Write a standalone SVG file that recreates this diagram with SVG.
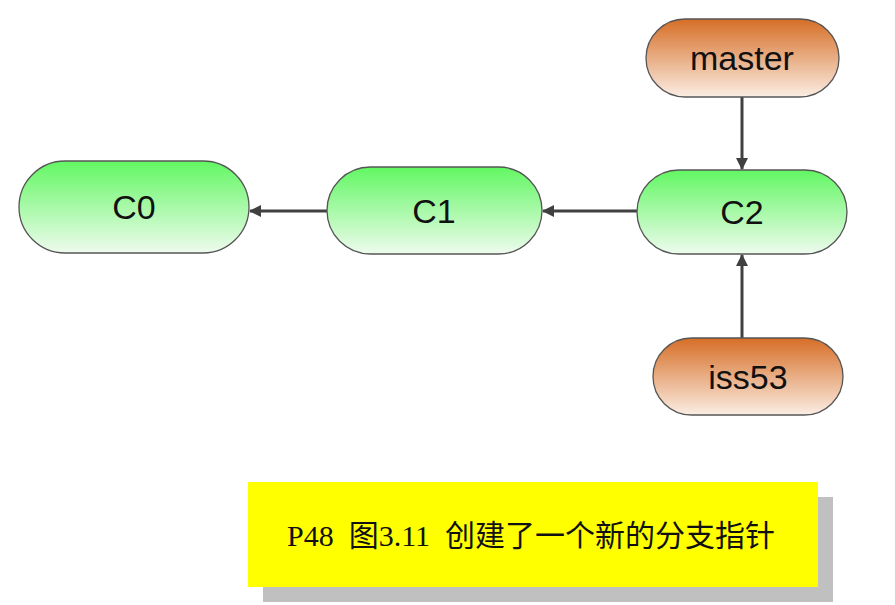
<svg xmlns="http://www.w3.org/2000/svg" width="895" height="605" viewBox="0 0 895 605">
<defs>
<linearGradient id="g" x1="0" y1="0" x2="0" y2="1">
<stop offset="0" stop-color="#62f762"/>
<stop offset="1" stop-color="#eefbee"/>
</linearGradient>
<linearGradient id="o" x1="0" y1="0" x2="0" y2="1">
<stop offset="0" stop-color="#d66e26"/>
<stop offset="1" stop-color="#fbede3"/>
</linearGradient>
<marker id="ah" markerWidth="12" markerHeight="12" refX="11" refY="6" orient="auto" markerUnits="userSpaceOnUse" viewBox="0 0 12 12">
<path d="M0,0 L12,6 L0,12 Z" fill="#404040"/>
</marker>
<style>
.c{fill:url(#g);stroke:#555;stroke-width:1.3}
.b{fill:url(#o);stroke:#555;stroke-width:1.3}
.t{font-family:"Liberation Sans","Open Sans",sans-serif;font-size:34px;fill:#111;text-anchor:middle}
.e{stroke:#404040;stroke-width:3;fill:none;marker-end:url(#ah)}
</style>
</defs>
<g id="edges">
<line class="e" x1="637" y1="211" x2="543" y2="211"/>
<line class="e" x1="327" y1="211" x2="250" y2="211"/>
<line class="e" x1="742" y1="97" x2="742" y2="169"/>
<line class="e" x1="742" y1="338" x2="742" y2="255"/>
</g>
<g id="C0"><rect class="c" x="19" y="161" width="230" height="92" rx="46"/><text class="t" x="134" y="219">C0</text></g>
<g id="C1"><rect class="c" x="327" y="167" width="215" height="87" rx="43.5"/><text class="t" x="434" y="223">C1</text></g>
<g id="C2"><rect class="c" x="637" y="170" width="210" height="84" rx="42"/><text class="t" x="742" y="224">C2</text></g>
<g id="master"><rect class="b" x="646" y="19" width="193" height="78" rx="39"/><text class="t" x="742" y="70">master</text></g>
<g id="iss53"><rect class="b" x="653" y="338" width="190" height="77" rx="38.5"/><text class="t" x="748" y="389">iss53</text></g>
<g id="caption">
<rect x="263" y="497" width="570" height="105" fill="#c0c0c0"/>
<rect x="248" y="482" width="570" height="105" fill="#ffff00"/>
<text x="531" y="546" text-anchor="middle" font-family="'Liberation Serif','Noto Sans CJK SC',serif" font-size="30" fill="#111" xml:space="preserve">P48  图3.11  创建了一个新的分支指针</text>
</g>
</svg>
